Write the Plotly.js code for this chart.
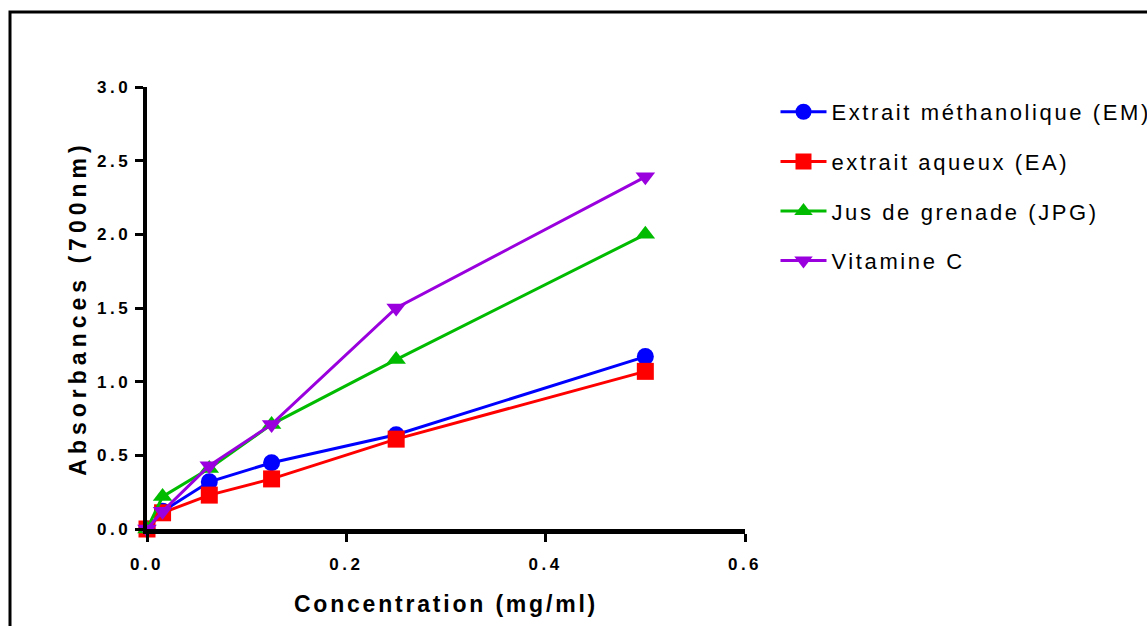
<!DOCTYPE html>
<html>
<head>
<meta charset="utf-8">
<script src="https://cdn.plot.ly/plotly-3.0.1.min.js"></script>
<style>
html, body { margin: 0; padding: 0; background: #fff; }
#chart { width: 1147px; height: 626px; }
.legendtext { letter-spacing: 2.6px; }
.xtitle { letter-spacing: 2.8px; }
.ytitle { letter-spacing: 5px; }
.xtick text, .ytick text { letter-spacing: 3.5px; }
</style>
</head>
<body>
<div id="chart"></div>
<script>
const concentrations = [0, 0.015625, 0.0625, 0.125, 0.25, 0.5];
const extraitMethanolique = [0, 0.12, 0.32, 0.45, 0.64, 1.17];
const extraitAqueux = [0, 0.11, 0.23, 0.34, 0.61, 1.07];
const jusGrenade = [0, 0.22, 0.41, 0.71, 1.15, 2.00];
const vitamineC = [0, 0.12, 0.43, 0.71, 1.50, 2.39];
const seriesNames = ["Extrait méthanolique (EM)", "extrait aqueux (EA)", "Jus de grenade (JPG)", "Vitamine C"];
const xTitle = "Concentration (mg/ml)";
const yTitle = "Absorbances (700nm)";

const FONT = "Liberation Sans, Arial, sans-serif";
function tr(y, name, color, symbol, grp) {
  return {
    x: concentrations, y: y, name: name, type: "scatter", mode: "lines+markers",
    line: { color: color, width: 3 },
    marker: { color: color, symbol: symbol, size: 17 },
    cliponaxis: false, legendgroup: grp
  };
}
const data = [
  tr(extraitMethanolique, seriesNames[0], "#0000ff", "circle", "a"),
  tr(extraitAqueux, seriesNames[1], "#ff0000", "square", "b"),
  tr(jusGrenade, seriesNames[2], "#00bb00", "triangle-up", "c"),
  tr(vitamineC, seriesNames[3], "#9900dd", "triangle-down", "d")
];
const layout = {
  width: 1147, height: 626,
  margin: { l: 147, r: 402, t: 87, b: 97, autoexpand: false },
  paper_bgcolor: "#fff", plot_bgcolor: "#fff",
  font: { family: FONT, color: "#000" },
  xaxis: {
    range: [0, 0.6], dtick: 0.2, tick0: 0, tickformat: ".1f",
    showline: true, linewidth: 4.5, linecolor: "#000",
    ticks: "outside", ticklen: 8, tickwidth: 3, tickcolor: "#000",
    showgrid: false, zeroline: false,
    tickfont: { family: FONT, size: 17, weight: "bold" },
    ticklabelstandoff: 8,
    title: { text: xTitle, font: { family: FONT, size: 23, weight: "bold" }, standoff: 24 },
    automargin: false
  },
  yaxis: {
    range: [0, 3], dtick: 0.5, tick0: 0, tickformat: ".1f",
    showline: true, linewidth: 4.5, linecolor: "#000",
    ticks: "outside", ticklen: 8, tickwidth: 3, tickcolor: "#000",
    showgrid: false, zeroline: false,
    tickfont: { family: FONT, size: 17, weight: "bold" },
    title: { text: yTitle, font: { family: FONT, size: 23, weight: "bold" }, standoff: 5 },
    automargin: false
  },
  legend: {
    x: 1.051, y: 0.991, xanchor: "left", yanchor: "top",
    font: { family: FONT, size: 22 },
    traceorder: "grouped", tracegroupgap: 18,
    itemwidth: 46, bgcolor: "rgba(0,0,0,0)"
  },
  shapes: [{
    type: "rect", xref: "paper", yref: "paper",
    x0: (10 - 147) / 598, x1: 1.8, y0: -0.4, y1: 1 + (87 - 12) / 442,
    line: { color: "#000", width: 3 }, fillcolor: "rgba(0,0,0,0)", layer: "below"
  }],
  showlegend: true
};
Plotly.newPlot("chart", data, layout, { displayModeBar: false, staticPlot: true });
</script>
</body>
</html>
